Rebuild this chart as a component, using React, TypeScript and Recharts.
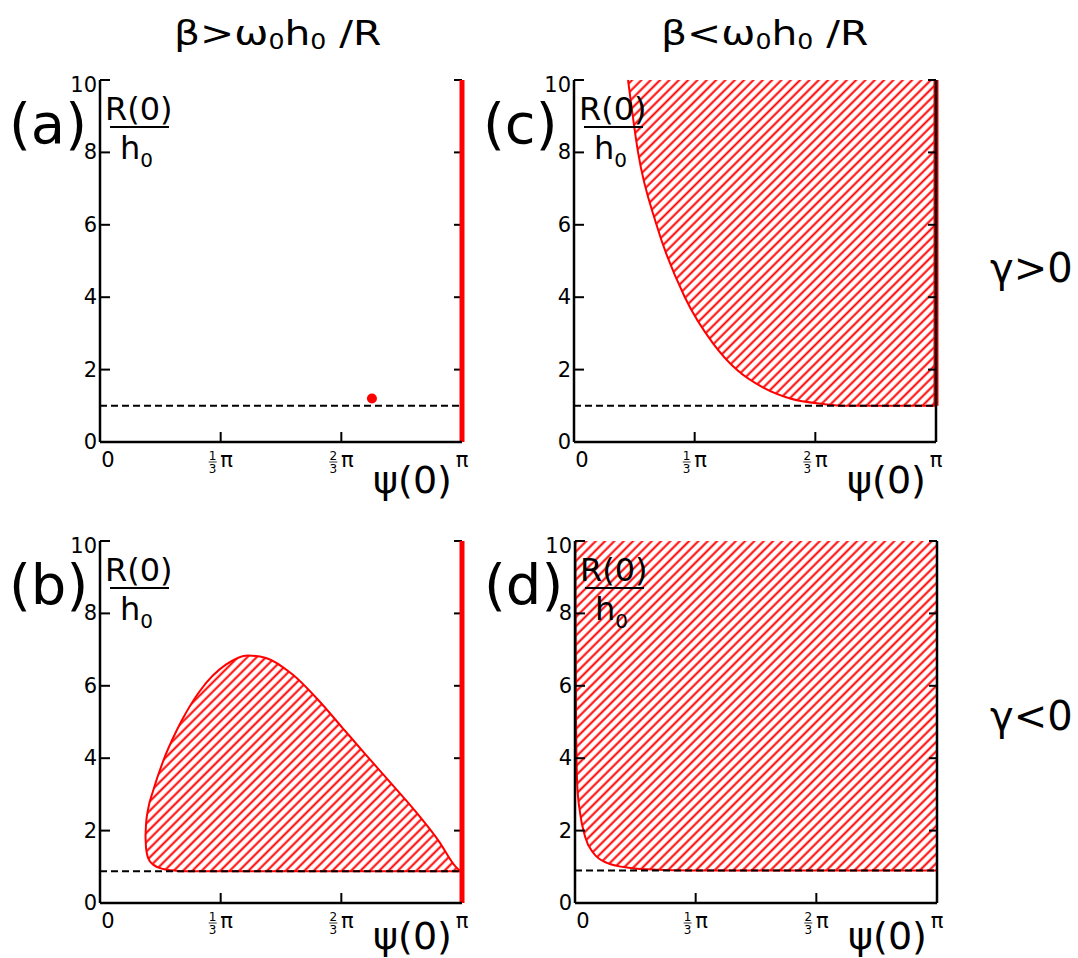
import React from 'react';
import { ComposedChart, Area, Line, Scatter, XAxis, YAxis } from 'recharts';

const PI = Math.PI;
const FONT = '"DejaVu Sans", Verdana, sans-serif';
const RED = '#ff0000';

const X_TICKS = [0, PI / 3, (2 * PI) / 3, PI];
const X_TICK_LABELS = [
  { num: '', den: '', main: '0' },
  { num: '1', den: '3', main: 'π' },
  { num: '2', den: '3', main: 'π' },
  { num: '', den: '', main: 'π' },
];
const Y_TICKS = [0, 2, 4, 6, 8, 10];

// (a) beta > w0h0/R, gamma > 0
const A_LEVEL = 1.0;
const A_POINT_PSI = [2.36];
const A_POINT_R = [1.2];

// (b) beta > w0h0/R, gamma < 0 : closed region, lower / upper edge
const B_LEVEL = 0.88;
const B_PSI = [0.395, 0.4, 0.418, 0.461, 0.548, 0.663, 0.706, 0.865, 1.095, 1.283, 1.441, 1.672, 1.902, 2.104, 2.306, 2.536, 2.738, 2.94, 3.084, 3.127];
const B_LOW = [1.85, 1.5, 1.24, 1.06, 0.94, 0.89, 0.88, 0.88, 0.88, 0.88, 0.88, 0.88, 0.88, 0.88, 0.88, 0.88, 0.88, 0.88, 0.88, 0.88];
const B_HIGH = [1.85, 2.2, 2.6, 3.1, 3.92, 4.75, 5.02, 5.85, 6.59, 6.84, 6.77, 6.31, 5.58, 4.84, 4.1, 3.27, 2.53, 1.71, 1.01, 0.88];

// (c) beta < w0h0/R, gamma > 0 : region above the curve
const C_LEVEL = 1.0;
const C_PSI = [0.469, 0.556, 0.716, 0.962, 1.208, 1.411, 1.643, 1.875, 2.165, 2.368, PI];
const C_R = [10, 8, 6, 4, 2.72, 2, 1.5, 1.2, 1.05, 1.0, 1.0];

// (d) beta < w0h0/R, gamma < 0 : region above the curve
const D_LEVEL = 0.9;
const D_PSI = [0.003, 0.009, 0.02, 0.044, 0.087, 0.16, 0.276, 0.479, 0.711, 1.0, PI];
const D_R = [10, 5.07, 3.23, 2.49, 1.84, 1.38, 1.11, 0.97, 0.92, 0.9, 0.9];

const TOP = 10;
const PLOT_PX = 362;
// inward tick lengths (10px / 8px) in data units
const TICK_X = (10 / PLOT_PX) * PI;
const TICK_XR = (8 / PLOT_PX) * PI;
const TICK_Y = (10 / PLOT_PX) * TOP;

const rows = (xs: number[], ys: number[]) => xs.map((x, i) => ({ x, y: ys[i] }));
const rangeRows = (xs: number[], lo: number[], hi: number[]) =>
  xs.map((x, i) => ({ x, range: [lo[i], hi[i]] }));
const levelRows = (lvl: number) => rows([0, PI], [lvl, lvl]);
const edgeRows = (from: number) => rows([PI, PI], [from, TOP]);

const XTick = (props: any) => {
  const { x, y, payload } = props;
  const i = X_TICKS.findIndex((t) => Math.abs(t - payload.value) < 1e-6);
  const lab = X_TICK_LABELS[i];
  if (!lab) return null;
  if (!lab.num) {
    return (
      <text x={x + (i === 0 ? 8 : 0)} y={y + 25} textAnchor="middle" fontSize={21} fontFamily={FONT} fill="#000">
        {lab.main}
      </text>
    );
  }
  return (
    <g fontFamily={FONT} fill="#000">
      <text x={x - 8} y={y + 18} textAnchor="middle" fontSize={12}>{lab.num}</text>
      <line x1={x - 12} x2={x - 4} y1={y + 20} y2={y + 20} stroke="#000" strokeWidth={0.8} />
      <text x={x - 8} y={y + 31} textAnchor="middle" fontSize={12}>{lab.den}</text>
      <text x={x + 6} y={y + 25} textAnchor="middle" fontSize={21}>{lab.main}</text>
    </g>
  );
};

const YTick = (props: any) => {
  const { x, y, payload } = props;
  return (
    <text x={x} y={y + (payload.value === 10 ? 5 : 0)} textAnchor="end" dominantBaseline="central" fontSize={21} fontFamily={FONT} fill="#000">
      {payload.value}
    </text>
  );
};

const seg = (key: string, data: { x: number; y: number }[]) => (
  <Line key={key} data={data} dataKey="y" type="linear" stroke="#000" strokeWidth={2} dot={false} activeDot={false} isAnimationActive={false} />
);

// inward tick marks as short segments through the chart scales
const tickMarks = [
  ...Y_TICKS.map((v) => seg(`l${v}`, rows([0, TICK_X], [v, v]))),
  ...Y_TICKS.map((v) => seg(`r${v}`, rows([PI - TICK_XR, PI], [v, v]))),
  ...X_TICKS.slice(1, -1).map((t, i) => seg(`b${i}`, rows([t, t], [0, TICK_Y]))),
];

type PanelProps = { left: number; top: number; id: string; rightLine: boolean; children: React.ReactNode; over?: React.ReactNode };

const Panel = ({ left, top, id, rightLine, children, over }: PanelProps) => (
  <div style={{ position: 'absolute', left: left - 100, top: top - 40 }}>
    <ComposedChart width={480} height={470} margin={{ top: 40, right: 8, bottom: 28, left: 40 }}>
      <defs>
        <pattern id={id} patternUnits="userSpaceOnUse" width={6.6} height={6.6} patternTransform="rotate(45)">
          <line x1={1.5} y1={-1} x2={1.5} y2={8} stroke={RED} strokeWidth={2} />
        </pattern>
      </defs>
      <XAxis
        type="number"
        dataKey="x"
        domain={[0, PI]}
        ticks={X_TICKS}
        interval={0}
        height={40}
        axisLine={{ stroke: '#000', strokeWidth: 2.5 }}
        tickLine={false}
        tickSize={0}
        tickMargin={0}
        tick={<XTick />}
      />
      <YAxis
        type="number"
        domain={[0, TOP]}
        ticks={Y_TICKS}
        interval={0}
        width={60}
        axisLine={{ stroke: '#000', strokeWidth: 2.5 }}
        tickLine={false}
        tickSize={0}
        tickMargin={3}
        tick={<YTick />}
      />
      <YAxis
        yAxisId="r"
        orientation="right"
        type="number"
        domain={[0, TOP]}
        ticks={Y_TICKS}
        width={10}
        axisLine={rightLine ? { stroke: '#000', strokeWidth: 2.5 } : false}
        tickLine={false}
        tick={false}
      />
      {children}
      {tickMarks}
      {over}
    </ComposedChart>
  </div>
);

const dashed = (lvl: number) => (
  <Line data={levelRows(lvl)} dataKey="y" type="linear" stroke="#000" strokeWidth={2} strokeDasharray="7 4" dot={false} activeDot={false} isAnimationActive={false} />
);

const thickEdge = (
  <Line data={edgeRows(0)} dataKey="y" type="linear" stroke={RED} strokeWidth={5} dot={false} activeDot={false} isAnimationActive={false} />
);

const Labels = ({ left, top, letter }: { left: number; top: number; letter: string }) => (
  <g fontFamily={FONT} fill="#000">
    <text x={left - 91} y={top + 63} fontSize={56}>({letter})</text>
    <text x={left + 5} y={top + 40} fontSize={32}>R(0)</text>
    <line x1={left + 10} x2={left + 69} y1={top + 47} y2={top + 47} stroke="#000" strokeWidth={2} />
    <text x={left + 20} y={top + 79} fontSize={32}>
      h<tspan fontSize={20} dy={8}>0</tspan>
    </text>
    <text x={left + 273} y={top + (top > 300 ? 408 : 413)} fontSize={38}>ψ(0)</text>
  </g>
);

const Title = ({ x, sign }: { x: number; sign: string }) => (
  <text transform={`translate(${x} 45) scale(1.2 1)`} x={0} y={0} fontSize={34}>
    β{sign}ω<tspan fontSize={21} dy={4}>0</tspan><tspan dy={-4}>h</tspan><tspan fontSize={21} dy={4}>0</tspan><tspan dy={-4}> /R</tspan>
  </text>
);

export default function App() {
  return (
    <div style={{ position: 'absolute', left: 0, top: 0, width: 1078, height: 958, background: '#fff', overflow: 'hidden' }}>
      <Panel
        left={100}
        top={80}
        id="hatch-a"
        rightLine={false}
        over={[
          <Line key="edge" data={edgeRows(0)} dataKey="y" type="linear" stroke={RED} strokeWidth={5} dot={false} activeDot={false} isAnimationActive={false} />,
          <Scatter
            key="pt"
            data={rows(A_POINT_PSI, A_POINT_R)}
            dataKey="y"
            fill={RED}
            isAnimationActive={false}
            shape={(p: any) => <circle cx={p.cx} cy={p.cy} r={5} fill={RED} />}
          />,
        ]}
      >
        {dashed(A_LEVEL)}
      </Panel>

      <Panel left={574} top={80} id="hatch-c" rightLine={true}>
        <Area data={rangeRows(C_PSI, C_R, C_PSI.map(() => TOP))} dataKey="range" type="monotone" stroke="none" fill="url(#hatch-c)" fillOpacity={1} activeDot={false} isAnimationActive={false} />
        <Line data={rows(C_PSI, C_R)} dataKey="y" type="monotone" stroke={RED} strokeWidth={2} dot={false} activeDot={false} isAnimationActive={false} />
        <Line data={edgeRows(C_LEVEL)} dataKey="y" type="linear" stroke={RED} strokeWidth={5} dot={false} activeDot={false} isAnimationActive={false} />
        {dashed(C_LEVEL)}
      </Panel>

      <Panel left={100} top={541} id="hatch-b" rightLine={false} over={thickEdge}>
        <Area data={rangeRows(B_PSI, B_LOW, B_HIGH)} dataKey="range" type="monotone" stroke={RED} strokeWidth={2} fill="url(#hatch-b)" fillOpacity={1} activeDot={false} isAnimationActive={false} />
        {dashed(B_LEVEL)}
      </Panel>

      <Panel left={575} top={541} id="hatch-d" rightLine={true}>
        <Area data={rangeRows(D_PSI, D_R, D_PSI.map(() => TOP))} dataKey="range" type="monotone" stroke="none" fill="url(#hatch-d)" fillOpacity={1} activeDot={false} isAnimationActive={false} />
        <Line data={rows(D_PSI, D_R)} dataKey="y" type="monotone" stroke={RED} strokeWidth={2} dot={false} activeDot={false} isAnimationActive={false} />
        {dashed(D_LEVEL)}
      </Panel>

      <svg width={1078} height={958} style={{ position: 'absolute', left: 0, top: 0, pointerEvents: 'none' }}>
        <g fontFamily={FONT} fill="#000">
          <Title x={174} sign=">" />
          <Title x={661} sign="<" />
          <text x={990} y={282} fontSize={40}>γ&gt;0</text>
          <text x={990} y={730} fontSize={40}>γ&lt;0</text>
        </g>
        <Labels left={100} top={80} letter="a" />
        <Labels left={574} top={80} letter="c" />
        <Labels left={100} top={541} letter="b" />
        <Labels left={575} top={541} letter="d" />
      </svg>
    </div>
  );
}
